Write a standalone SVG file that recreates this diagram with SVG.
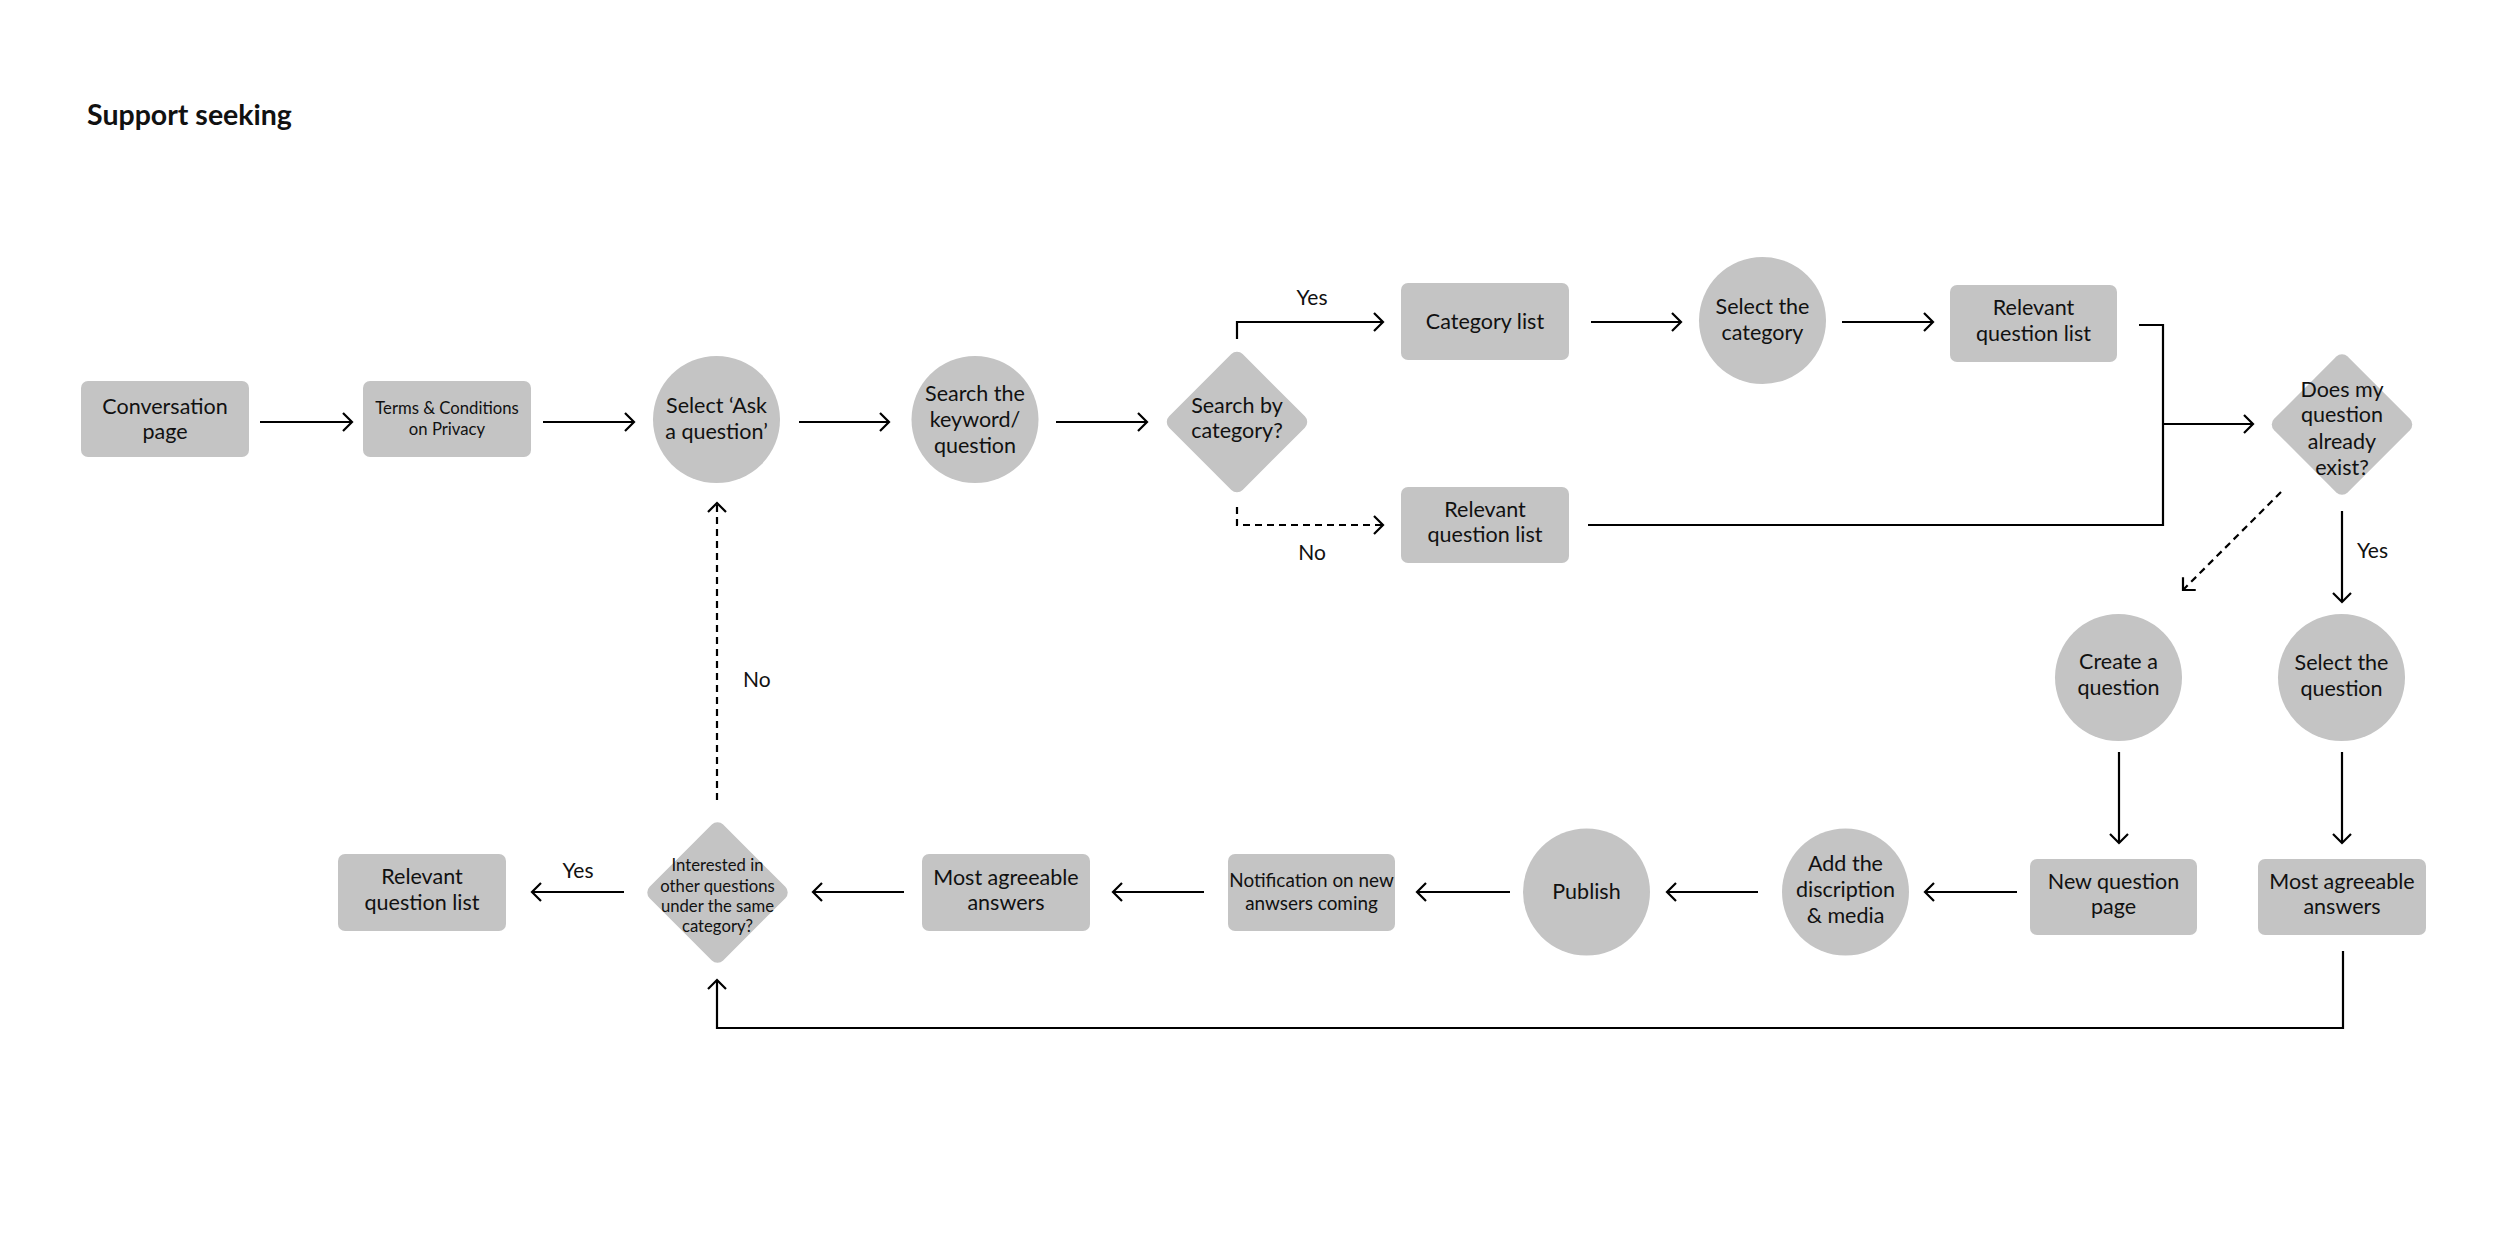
<svg xmlns="http://www.w3.org/2000/svg" width="2506" height="1235" viewBox="0 0 2506 1235">
<style>
text{font-family:Lato,"Liberation Sans",sans-serif;fill:#111;}
.t{font-size:21.5px;text-anchor:middle;}
.s{font-size:16.7px;text-anchor:middle;}
.m{font-size:18.9px;text-anchor:middle;}
.lbl{font-size:21px;}
.title{font-size:28.5px;font-weight:bold;}
.box{fill:#c4c4c4;}
.ln{fill:none;stroke:#000;stroke-width:2.2;}
.dash{stroke-dasharray:7 5;}
</style>
<defs>
<marker id="ah" viewBox="-12 -12 14 24" refX="0" refY="0" markerWidth="14" markerHeight="24" markerUnits="userSpaceOnUse" orient="auto">
<path d="M-9,-9 L0,0 L-9,9" fill="none" stroke="#000" stroke-width="2.2"/>
</marker>
</defs>
<rect width="2506" height="1235" fill="#fff"/>
<text class="title" x="87" y="125">Support seeking</text>

<g id="n-conversation"><rect class="box" x="81" y="381" width="168" height="76" rx="7"/><text class="t" x="165" y="413.5">Conversation</text><text class="t" x="165" y="438.5">page</text></g>
<g id="n-terms"><rect class="box" x="363" y="381" width="168" height="76" rx="7"/><text class="s" x="447" y="414">Terms &amp; Conditions</text><text class="s" x="447" y="435">on Privacy</text></g>
<g id="n-ask"><circle class="box" cx="716.5" cy="419.5" r="63.5"/><text class="t" x="716.5" y="413">Select ‘Ask</text><text class="t" x="716.5" y="439">a question’</text></g>
<g id="n-search"><circle class="box" cx="975" cy="419.5" r="63.5"/><text class="t" x="975" y="401">Search the</text><text class="t" x="975" y="427">keyword/</text><text class="t" x="975" y="453">question</text></g>
<g id="n-bycat"><rect class="box" x="1185" y="370" width="104" height="104" rx="8" transform="rotate(45 1237 422)"/><text class="t" x="1237" y="413">Search by</text><text class="t" x="1237" y="438">category?</text></g>
<g id="n-catlist"><rect class="box" x="1401" y="283" width="168" height="77" rx="7"/><text class="t" x="1485" y="329">Category list</text></g>
<g id="n-selcat"><circle class="box" cx="1762.5" cy="320.5" r="63.5"/><text class="t" x="1762.5" y="314">Select the</text><text class="t" x="1762.5" y="340">category</text></g>
<g id="n-rel1"><rect class="box" x="1950" y="285" width="167" height="77" rx="7"/><text class="t" x="2033.5" y="315">Relevant</text><text class="t" x="2033.5" y="341">question list</text></g>
<g id="n-rel2"><rect class="box" x="1401" y="487" width="168" height="76" rx="7"/><text class="t" x="1485" y="517">Relevant</text><text class="t" x="1485" y="542">question list</text></g>
<g id="n-exist"><rect class="box" x="2290" y="372.5" width="104" height="104" rx="8" transform="rotate(45 2342 424.5)"/><text class="t" x="2342" y="397">Does my</text><text class="t" x="2342" y="422">question</text><text class="t" x="2342" y="449">already</text><text class="t" x="2342" y="475">exist?</text></g>
<g id="n-create"><circle class="box" cx="2118.5" cy="677.5" r="63.5"/><text class="t" x="2118.5" y="669">Create a</text><text class="t" x="2118.5" y="695">question</text></g>
<g id="n-selq"><circle class="box" cx="2341.5" cy="677.5" r="63.5"/><text class="t" x="2341.5" y="670">Select the</text><text class="t" x="2341.5" y="696">question</text></g>
<g id="n-newq"><rect class="box" x="2030" y="859" width="167" height="76" rx="7"/><text class="t" x="2113.5" y="889">New question</text><text class="t" x="2113.5" y="914">page</text></g>
<g id="n-most2"><rect class="box" x="2258" y="859" width="168" height="76" rx="7"/><text class="t" x="2342" y="889">Most agreeable</text><text class="t" x="2342" y="914">answers</text></g>
<g id="n-add"><circle class="box" cx="1845.5" cy="892" r="63.5"/><text class="t" x="1845.5" y="871">Add the</text><text class="t" x="1845.5" y="897">discription</text><text class="t" x="1845.5" y="923">&amp; media</text></g>
<g id="n-publish"><circle class="box" cx="1586.5" cy="892" r="63.5"/><text class="t" x="1586.5" y="899">Publish</text></g>
<g id="n-notif"><rect class="box" x="1228" y="854" width="167" height="77" rx="7"/><text class="m" x="1311.5" y="887">Notification on new</text><text class="m" x="1311.5" y="910">anwsers coming</text></g>
<g id="n-most1"><rect class="box" x="922" y="854" width="168" height="77" rx="7"/><text class="t" x="1006" y="885">Most agreeable</text><text class="t" x="1006" y="910">answers</text></g>
<g id="n-interested"><rect class="box" x="665.5" y="840.5" width="104" height="104" rx="8" transform="rotate(45 717.5 892.5)"/><text class="s" x="717.5" y="871">Interested in</text><text class="s" x="717.5" y="892">other questions</text><text class="s" x="717.5" y="912">under the same</text><text class="s" x="717.5" y="932">category?</text></g>
<g id="n-rel3"><rect class="box" x="338" y="854" width="168" height="77" rx="7"/><text class="t" x="422" y="884">Relevant</text><text class="t" x="422" y="910">question list</text></g>

<g id="connectors">
<path class="ln" d="M260,422 H352" marker-end="url(#ah)"/>
<path class="ln" d="M543,422 H634" marker-end="url(#ah)"/>
<path class="ln" d="M799,422 H889" marker-end="url(#ah)"/>
<path class="ln" d="M1056,422 H1147" marker-end="url(#ah)"/>
<path class="ln" d="M1237,339 V322 H1383" marker-end="url(#ah)"/>
<path class="ln dash" d="M1237,507 V525 H1383" marker-end="url(#ah)"/>
<path class="ln" d="M1591,322 H1681" marker-end="url(#ah)"/>
<path class="ln" d="M1842,322 H1933" marker-end="url(#ah)"/>
<path class="ln" d="M2139,325 H2163 V525 H1588"/>
<path class="ln" d="M2163,424 H2253" marker-end="url(#ah)"/>
<path class="ln dash" d="M2281,492 L2183,590" marker-end="url(#ah)"/>
<path class="ln" d="M2342,511 V602" marker-end="url(#ah)"/>
<path class="ln" d="M2119,752 V843" marker-end="url(#ah)"/>
<path class="ln" d="M2342,752 V843" marker-end="url(#ah)"/>
<path class="ln" d="M2017,892 H1925" marker-end="url(#ah)"/>
<path class="ln" d="M1758,892 H1667" marker-end="url(#ah)"/>
<path class="ln" d="M1510,892 H1417" marker-end="url(#ah)"/>
<path class="ln" d="M1204,892 H1113" marker-end="url(#ah)"/>
<path class="ln" d="M904,892 H813" marker-end="url(#ah)"/>
<path class="ln" d="M624,892 H532" marker-end="url(#ah)"/>
<path class="ln dash" d="M717,800 V503" marker-end="url(#ah)"/>
<path class="ln" d="M2343,951 V1028 H717 V980" marker-end="url(#ah)"/>
<text class="lbl" x="1312" y="305" text-anchor="middle">Yes</text>
<text class="lbl" x="1312" y="560" text-anchor="middle">No</text>
<text class="lbl" x="2357" y="558">Yes</text>
<text class="lbl" x="743" y="687">No</text>
<text class="lbl" x="578" y="878" text-anchor="middle">Yes</text>
</g>
</svg>
